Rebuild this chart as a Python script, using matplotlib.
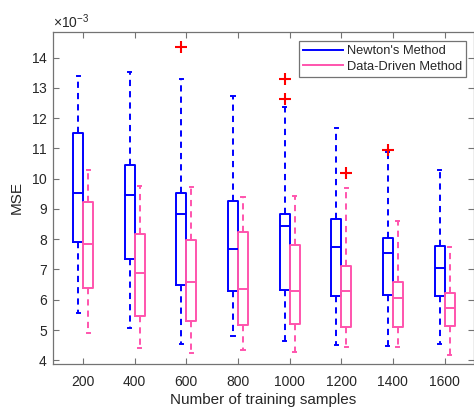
import matplotlib
matplotlib.use("Agg")
import matplotlib.pyplot as plt
from matplotlib.lines import Line2D
from matplotlib.ticker import ScalarFormatter

plt.rcParams['font.family'] = ['Liberation Sans', 'DejaVu Sans']
plt.rcParams['mathtext.fontset'] = 'custom'
plt.rcParams['mathtext.rm'] = 'Liberation Sans'

# Training set sizes
samples = [200, 400, 600, 800, 1000, 1200, 1400, 1600]

# Box statistics in units of 1e-3 (lower whisker, Q1, median, Q3, upper whisker)
newton_lo  = [5.57, 5.06, 4.55, 4.79, 4.65, 4.52, 4.48, 4.54]
newton_q1  = [7.91, 7.34, 6.49, 6.29, 6.32, 6.12, 6.16, 6.12]
newton_med = [9.54, 9.47, 8.82, 7.69, 8.45, 7.73, 7.56, 7.06]
newton_q3  = [11.50, 10.44, 9.54, 9.25, 8.82, 8.66, 8.05, 7.79]
newton_hi  = [13.39, 13.53, 13.29, 12.73, 12.37, 11.67, 10.89, 10.27]
newton_out = [[], [], [14.36], [], [13.30, 12.63], [], [10.95], []]

data_lo  = [4.91, 4.42, 4.24, 4.35, 4.27, 4.44, 4.43, 4.17]
data_q1  = [6.40, 5.46, 5.29, 5.16, 5.20, 5.11, 5.11, 5.14]
data_med = [7.85, 6.90, 6.60, 6.37, 6.28, 6.30, 6.07, 5.74]
data_q3  = [9.24, 8.16, 7.97, 8.25, 7.81, 7.13, 6.58, 6.23]
data_hi  = [10.27, 9.76, 9.73, 9.41, 9.43, 9.70, 8.60, 7.74]
data_out = [[], [], [], [], [], [10.18], [], []]

series_names = ["Newton's Method", "Data-Driven Method"]
scale = 1e-3

BLUE = (0.0, 0.0, 1.0)
PINK = (1.0, 0.33, 0.68)
AXC = (0.15, 0.15, 0.15)


def make_stats(lo, q1, med, q3, hi, out):
    return [dict(whislo=a * scale, q1=b * scale, med=c * scale, q3=d * scale,
                 whishi=e * scale, fliers=[v * scale for v in f])
            for a, b, c, d, e, f in zip(lo, q1, med, q3, hi, out)]


fig = plt.figure(figsize=(4.74, 4.08), dpi=100)
ax = fig.add_axes([0.111, 0.108, 0.889, 0.814])

idx = list(range(1, len(samples) + 1))
w = 0.194


def draw(stats, positions, color):
    ax.bxp(stats, positions=positions, widths=w, capwidths=0.06,
           showfliers=True, manage_ticks=False,
           boxprops=dict(color=color, linewidth=1.4),
           medianprops=dict(color=color, linewidth=1.4),
           whiskerprops=dict(color=color, linewidth=1.4, linestyle=(0, (3.2, 2.6))),
           capprops=dict(color=color, linewidth=1.4),
           flierprops=dict(marker='+', markeredgecolor=(1, 0, 0),
                           markersize=8, markeredgewidth=1.5, linestyle='none'))


draw(make_stats(newton_lo, newton_q1, newton_med, newton_q3, newton_hi, newton_out),
     [p - w / 2 for p in idx], BLUE)
draw(make_stats(data_lo, data_q1, data_med, data_q3, data_hi, data_out),
     [p + w / 2 for p in idx], PINK)

ax.set_xlim(0.41, 8.57)
ax.set_ylim(3.88e-3, 14.85e-3)
ax.set_xticks(idx)
ax.set_xticklabels([str(s) for s in samples])
ax.set_yticks([v * scale for v in range(4, 15)])

fmt = ScalarFormatter(useMathText=True)
fmt.set_powerlimits((-3, -3))
ax.yaxis.set_major_formatter(fmt)
ax.yaxis.get_offset_text().set_fontsize(10)
ax.yaxis.get_offset_text().set_color(AXC)

ax.tick_params(direction='in', length=4, width=0.8, colors=(0.45, 0.45, 0.45),
               labelcolor=AXC, labelsize=10, top=True, right=True)
ax.tick_params(axis='x', pad=8)
for s in ax.spines.values():
    s.set_color((0.45, 0.45, 0.45))
    s.set_linewidth(0.9)

ax.set_xlabel('Number of training samples', fontsize=11, color=AXC, labelpad=3)
ax.set_ylabel('MSE', fontsize=11, color=AXC, labelpad=5)

handles = [Line2D([], [], color=BLUE, linewidth=1.4),
           Line2D([], [], color=PINK, linewidth=1.4)]
leg = ax.legend(handles, series_names, loc='upper right',
                bbox_to_anchor=(0.980, 0.971), borderaxespad=0,
                fontsize=9.3, handlelength=3.1, handletextpad=0.3,
                labelspacing=0.25, borderpad=0.3, fancybox=False,
                framealpha=1, edgecolor=(0.45, 0.45, 0.45))
leg.get_frame().set_linewidth(0.9)
for t in leg.get_texts():
    t.set_color(AXC)

fig.savefig('out.png', dpi=100)
